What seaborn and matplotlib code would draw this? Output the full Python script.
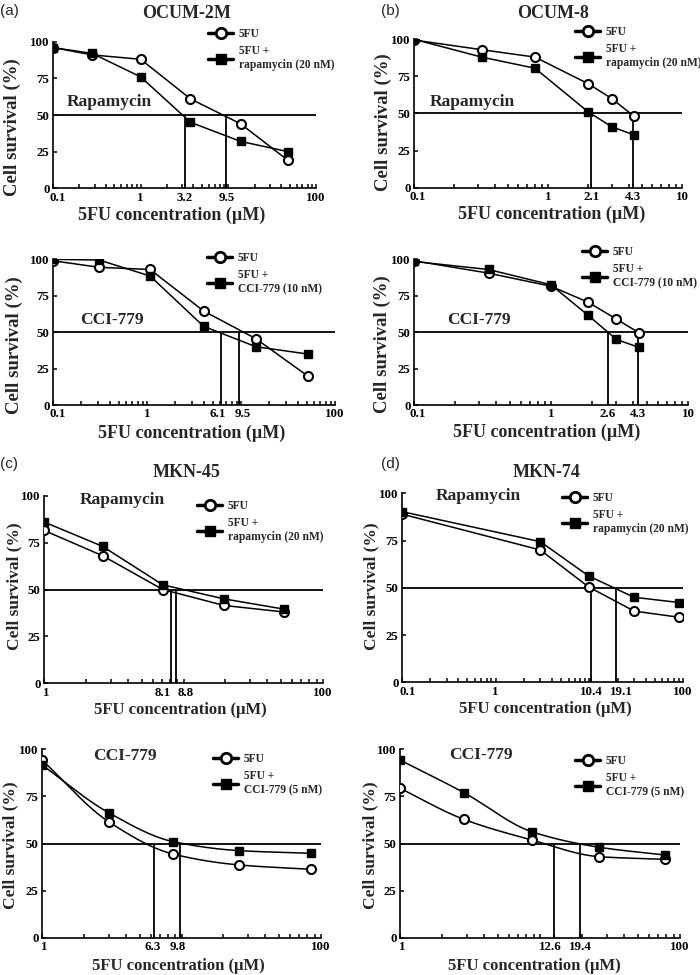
import numpy as np
import pandas as pd
import matplotlib
matplotlib.use("Agg")
import matplotlib.pyplot as plt
from matplotlib.lines import Line2D
from matplotlib.ticker import FixedLocator, LogLocator, NullFormatter
from matplotlib.transforms import ScaledTranslation
import seaborn as sns

sns.set_theme(style="ticks")
plt.rcParams["font.family"] = ["Liberation Serif", "DejaVu Serif"]
plt.rcParams["font.weight"] = "bold"

# ---- data (5FU concentration in uM, survival in %) ----
# (a) OCUM-2M
ocum2m_rapa_conc = [0.1, 0.28, 1.0, 3.7, 13.8, 48]
ocum2m_rapa_5fu = [96, 91, 88, 61, 44, 19]
ocum2m_rapa_combo = [96, 92, 76, 45, 32, 25]
ocum2m_rapa_ic50 = [3.2, 9.5]

ocum2m_cci_conc = [0.1, 0.31, 1.08, 4.0, 14.4, 51]
ocum2m_cci_5fu = [99, 94.5, 93, 64.5, 45.5, 20]
ocum2m_cci_combo = [100, 99.5, 88.5, 54, 40, 35]
ocum2m_cci_ic50 = [6.1, 9.5]

# (b) OCUM-8
ocum8_rapa_conc = [0.1, 0.32, 0.8, 2.0, 3.0, 4.4]
ocum8_rapa_5fu = [99.5, 93, 88, 70, 60, 48]
ocum8_rapa_combo = [100, 88, 80.5, 51, 41, 35.5]
ocum8_rapa_ic50 = [2.1, 4.3]

ocum8_cci_conc = [0.1, 0.35, 1.0, 1.87, 3.0, 4.4]
ocum8_cci_5fu = [99, 90.5, 81.5, 70.5, 59, 49.5]
ocum8_cci_combo = [98.5, 93, 82.5, 61.5, 45, 39.5]
ocum8_cci_ic50 = [2.6, 4.3]

# (c) MKN-45
mkn45_rapa_conc = [1, 2.63, 7.1, 19.5, 52.8]
mkn45_rapa_5fu = [81.5, 68, 50, 41.5, 38]
mkn45_rapa_combo = [86, 73, 52.5, 45, 39.5]
mkn45_rapa_ic50 = [8.1, 8.8]

mkn45_cci_conc = [1, 3.0, 8.7, 26, 85]
mkn45_cci_5fu = [94.3, 61.6, 44.4, 38.6, 36.3]
mkn45_cci_combo = [91.7, 66.4, 51, 46.2, 44.8]
mkn45_cci_ic50 = [6.3, 9.8]

# (d) MKN-74
mkn74_rapa_conc = [0.1, 3.0, 9.8, 30, 91]
mkn74_rapa_5fu = [89, 70, 50.5, 37.7, 34.4]
mkn74_rapa_combo = [90.3, 74.4, 56.3, 45, 42.2]
mkn74_rapa_ic50 = [10.4, 19.1]

mkn74_cci_conc = [1, 2.86, 8.7, 26.5, 78]
mkn74_cci_5fu = [79.3, 62.8, 51.9, 43, 41.6]
mkn74_cci_combo = [94.3, 77, 56.3, 48, 43.9]
mkn74_cci_ic50 = [12.6, 19.4]

# ---- layout, in pixels of the 700x975 picture ----
W, H = 700, 975
panels = [
    dict(conc=ocum2m_rapa_conc, s1=ocum2m_rapa_5fu, s2=ocum2m_rapa_combo, ic50=ocum2m_rapa_ic50,
         box=(53, 316, 41.7, 188.3), xlim=(0.1, 100), ticks=["0.1", "1", "3.2", "9.5", "100"],
         shift=[5, 0, 0, 0, 0],
         drug="Rapamycin", drug_xy=(67, 102), combo="5FU +\nrapamycin (20 nM)", leg_xy=(208, 35),
         ylab=(-0.154, 0.42), xlab=(0.45, 27), fs=13, smooth=False),
    dict(conc=ocum8_rapa_conc, s1=ocum8_rapa_5fu, s2=ocum8_rapa_combo, ic50=ocum8_rapa_ic50,
         box=(414, 682, 39.3, 187.7), xlim=(0.1, 10), ticks=["0.1", "1", "2.1", "4.3", "10"],
         shift=[4, 0, 0, 0, 0],
         drug="Rapamycin", drug_xy=(430, 102), combo="5FU +\nrapamycin (20 nM)", leg_xy=(575, 33),
         ylab=(-0.115, 0.44), xlab=(0.514, 27), fs=13, smooth=False),
    dict(conc=ocum2m_cci_conc, s1=ocum2m_cci_5fu, s2=ocum2m_cci_combo, ic50=ocum2m_cci_ic50,
         box=(53, 335, 259.3, 405), xlim=(0.1, 100), ticks=["0.1", "1", "6.1", "9.5", "100"],
         shift=[5, 0, -3, 4, 0],
         drug="CCI-779", drug_xy=(80, 320), combo="5FU +\nCCI-779 (10 nM)", leg_xy=(207, 259),
         ylab=(-0.138, 0.41), xlab=(0.49, 28), fs=13, smooth=False),
    dict(conc=ocum8_cci_conc, s1=ocum8_cci_5fu, s2=ocum8_cci_combo, ic50=ocum8_cci_ic50,
         box=(414, 688, 259.3, 405), xlim=(0.1, 10), ticks=["0.1", "1", "2.6", "4.3", "10"],
         shift=[4, 0, 0, 0, 0],
         drug="CCI-779", drug_xy=(447, 320), combo="5FU +\nCCI-779 (10 nM)", leg_xy=(582, 253),
         ylab=(-0.115, 0.42), xlab=(0.484, 27), fs=13, smooth=False),
    dict(conc=mkn45_rapa_conc, s1=mkn45_rapa_5fu, s2=mkn45_rapa_combo, ic50=mkn45_rapa_ic50,
         box=(44, 323, 495.7, 683.3), xlim=(1, 100), ticks=["1", "8.1", "8.8", "100"],
         shift=[2, -8, 10, 0],
         drug="Rapamycin", drug_xy=(80, 500), combo="5FU +\nrapamycin (20 nM)", leg_xy=(197, 507),
         ylab=(-0.105, 0.515), xlab=(0.49, 27), fs=12, smooth=False),
    dict(conc=mkn74_rapa_conc, s1=mkn74_rapa_5fu, s2=mkn74_rapa_combo, ic50=mkn74_rapa_ic50,
         box=(402, 683, 493.3, 682.3), xlim=(0.1, 100), ticks=["0.1", "1", "10.4", "19.1", "100"],
         shift=[6, 0, 0, 6, 0],
         drug="Rapamycin", drug_xy=(436, 496), combo="5FU +\nrapamycin (20 nM)", leg_xy=(562, 499),
         ylab=(-0.108, 0.51), xlab=(0.51, 27), fs=12, smooth=False),
    dict(conc=mkn45_cci_conc, s1=mkn45_cci_5fu, s2=mkn45_cci_combo, ic50=mkn45_cci_ic50,
         box=(42, 321, 749.3, 937.7), xlim=(1, 100), ticks=["1", "6.3", "9.8", "100"],
         shift=[2, -1, -3, 0],
         drug="CCI-779", drug_xy=(93, 756), combo="5FU +\nCCI-779 (5 nM)", leg_xy=(213, 760),
         ylab=(-0.112, 0.49), xlab=(0.49, 28.5), fs=12, smooth=True),
    dict(conc=mkn74_cci_conc, s1=mkn74_cci_5fu, s2=mkn74_cci_combo, ic50=mkn74_cci_ic50,
         box=(400, 680, 749.3, 937.7), xlim=(1, 100), ticks=["1", "12.6", "19.4", "100"],
         shift=[2, -4, 0, 0],
         drug="CCI-779", drug_xy=(449, 755), combo="5FU +\nCCI-779 (5 nM)", leg_xy=(575, 762),
         ylab=(-0.104, 0.49), xlab=(0.48, 28.5), fs=12, smooth=True),
]

titles = [("OCUM-2M", 187, 14), ("OCUM-8", 553, 14), ("MKN-45", 187, 473), ("MKN-74", 547, 473)]
letters = [("(a)", 0, 11), ("(b)", 381, 11), ("(c)", 0, 464), ("(d)", 381, 464)]


def pchip(x, y, xs):
    # monotone cubic through the points, for the smoothed curves
    x = np.asarray(x, float)
    y = np.asarray(y, float)
    h = np.diff(x)
    d = np.diff(y) / h
    m = np.zeros(len(x))
    m[0] = d[0]
    m[-1] = d[-1]
    for k in range(1, len(x) - 1):
        if d[k - 1] * d[k] > 0:
            w1 = 2 * h[k] + h[k - 1]
            w2 = h[k] + 2 * h[k - 1]
            m[k] = (w1 + w2) / (w1 / d[k - 1] + w2 / d[k])
    idx = np.clip(np.searchsorted(x, xs) - 1, 0, len(x) - 2)
    t = (xs - x[idx]) / h[idx]
    h00 = 2 * t**3 - 3 * t**2 + 1
    h10 = t**3 - 2 * t**2 + t
    h01 = -2 * t**3 + 3 * t**2
    h11 = t**3 - t**2
    return h00 * y[idx] + h10 * h[idx] * m[idx] + h01 * y[idx + 1] + h11 * h[idx] * m[idx + 1]


fig = plt.figure(figsize=(W / 100, H / 100), dpi=100)

circle_kw = dict(marker="o", markersize=6.5, markerfacecolor="white", markeredgecolor="black", markeredgewidth=1.5)
square_kw = dict(marker="s", markersize=6, markerfacecolor="black", markeredgecolor="black", markeredgewidth=1)

for p in panels:
    L, R, T, B = p["box"]
    ax = fig.add_axes([L / W, 1 - B / H, (R - L) / W, (B - T) / H])
    df = pd.DataFrame({
        "conc": p["conc"] + p["conc"],
        "survival": p["s1"] + p["s2"],
        "group": ["5FU"] * len(p["conc"]) + ["combo"] * len(p["conc"]),
    })
    d1 = df[df["group"] == "5FU"]
    d2 = df[df["group"] == "combo"]

    if p["smooth"]:
        lx = np.log10(p["conc"])
        xs = np.linspace(lx[0], lx[-1], 200)
        for d in (d1, d2):
            ys = pchip(lx, d["survival"].values, xs)
            sns.lineplot(x=10**xs, y=ys, ax=ax, color="black", lw=1.1, sort=False, estimator=None)
        sns.lineplot(data=d1, x="conc", y="survival", ax=ax, linestyle="none", estimator=None, zorder=4, **circle_kw)
        sns.lineplot(data=d2, x="conc", y="survival", ax=ax, linestyle="none", estimator=None, zorder=4, **square_kw)
    else:
        sns.lineplot(data=d1, x="conc", y="survival", ax=ax, color="black", lw=1.1, estimator=None, sort=False, zorder=3, **circle_kw)
        sns.lineplot(data=d2, x="conc", y="survival", ax=ax, color="black", lw=1.1, estimator=None, sort=False, zorder=4, **square_kw)

    # 50 % line and the IC50 drops
    ax.axhline(50, color="black", lw=1.3, zorder=2)
    ax.vlines(p["ic50"], 0, 50, color="black", lw=1.3, zorder=2)

    ax.set_xscale("log")
    ax.set_xlim(p["xlim"])
    ax.set_ylim(0, 100)
    ax.set_yticks([0, 25, 50, 75, 100])
    ax.set_yticklabels(["0", "25", "50", "75", "100"])
    tick_pos = [float(t) for t in p["ticks"]]
    ax.xaxis.set_major_locator(FixedLocator(tick_pos))
    ax.set_xticklabels(p["ticks"])
    ax.xaxis.set_minor_locator(LogLocator(base=10, subs=np.arange(1, 10), numticks=20))
    ax.xaxis.set_minor_formatter(NullFormatter())
    ax.tick_params(axis="both", which="both", direction="in", length=3, width=1.1, color="black",
                   labelsize=9.3, pad=2.5, labelcolor="black")
    for lab in ax.get_xticklabels() + ax.get_yticklabels():
        lab.set_fontweight("bold")
    # nudge tick labels that sit too close together
    for lab, dx in zip(ax.get_xticklabels(), p["shift"]):
        if dx:
            lab.set_transform(lab.get_transform() + ScaledTranslation(dx / 100, 0, fig.dpi_scale_trans))
    sns.despine(ax=ax)
    for s in ("left", "bottom"):
        ax.spines[s].set_linewidth(1.2)
        ax.spines[s].set_color("black")
    ax.grid(False)

    ax.set_ylabel("Cell survival (%)", fontsize=p["fs"] + 0.5, fontweight="bold", va="center")
    ax.yaxis.set_label_coords(*p["ylab"])
    ax.set_xlabel("5FU concentration (\u00b5M)", fontsize=p["fs"], fontweight="bold", va="center")
    ax.xaxis.set_label_coords(p["xlab"][0], -p["xlab"][1] / (B - T))

    fig.text(p["drug_xy"][0] / W, 1 - p["drug_xy"][1] / H, p["drug"], fontsize=12.5,
             fontweight="bold", ha="left", va="center")

    handles = [
        Line2D([0], [0], color="black", lw=2.5, **dict(circle_kw, markersize=7.5, markeredgewidth=2)),
        Line2D([0], [0], color="black", lw=2.5, **dict(square_kw, markersize=7.5)),
    ]
    lx0, ly0 = p["leg_xy"]
    ax.legend(handles, ["5FU", p["combo"]], loc="upper left",
              bbox_to_anchor=(lx0 / W, 1 - (ly0 - 7) / H), bbox_transform=fig.transFigure,
              frameon=False, borderpad=0, borderaxespad=0, handlelength=2.2, handletextpad=0.45,
              labelspacing=0.45, prop=dict(family="Liberation Serif", weight="bold", size=8.3))

for text, x, y in titles:
    fig.text(x / W, 1 - y / H, text, fontsize=13, fontweight="bold", ha="center", va="center")
for text, x, y in letters:
    fig.text(x / W, 1 - y / H, text, fontsize=11, fontweight="normal", family="Liberation Sans",
             ha="left", va="center")

fig.savefig("out.png", dpi=100)
